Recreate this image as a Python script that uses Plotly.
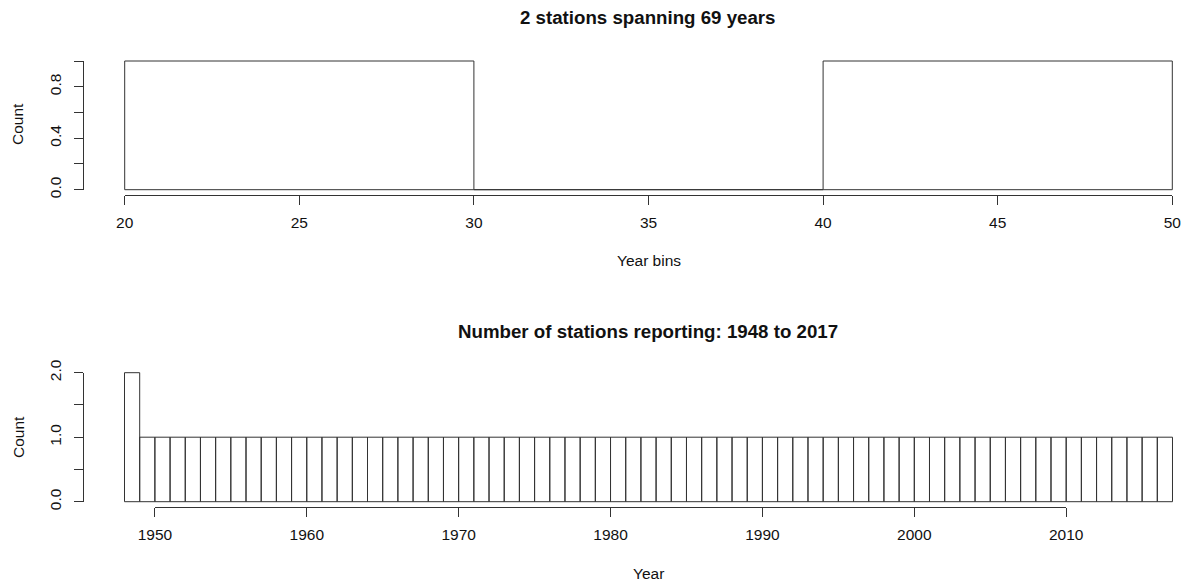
import plotly.graph_objects as go

# ---- data ---------------------------------------------------------------
span_edges = [20, 30, 40, 50]
span_counts = [1, 0, 1]
span_ticks = [20, 25, 30, 35, 40, 45, 50]

year_edges = list(range(1948, 2018))
year_counts = [2, 1, 1, 1, 1, 1, 1, 1, 1, 1,
               1, 1, 1, 1, 1, 1, 1, 1, 1, 1,
               1, 1, 1, 1, 1, 1, 1, 1, 1, 1,
               1, 1, 1, 1, 1, 1, 1, 1, 1, 1,
               1, 1, 1, 1, 1, 1, 1, 1, 1, 1,
               1, 1, 1, 1, 1, 1, 1, 1, 1, 1,
               1, 1, 1, 1, 1, 1, 1, 1, 1]
year_ticks = [1950, 1960, 1970, 1980, 1990, 2000, 2010]

span_yticks = [0.0, 0.2, 0.4, 0.6, 0.8, 1.0]
span_ylabels = ["0.0", "", "0.4", "", "0.8", ""]
year_yticks = [0.0, 0.5, 1.0, 1.5, 2.0]
year_ylabels = ["0.0", "", "1.0", "", "2.0"]

title_top = "2 stations spanning 69 years"
title_bottom = "Number of stations reporting: 1948 to 2017"

# ---- page geometry (pixels) ---------------------------------------------
W, H = 1190, 587
FONT = "Liberation Sans, Arial, Helvetica, sans-serif"
INK = "#333333"
BASE = 15.5


def fx(p):
    return p / W


def fy(p):
    return 1 - p / H


def inv(v0, p0, v1, p1, p):
    return v0 + (p - p0) * (v1 - v0) / (p1 - p0)


def outline(edges, counts):
    xs, ys = [], []
    for i, c in enumerate(counts):
        l, r = edges[i], edges[i + 1]
        xs += [l, l, r, r, l, None]
        ys += [0, c, c, 0, 0, None]
    return xs, ys


panels = [
    dict(edges=span_edges, counts=span_counts, xticks=span_ticks,
         yticks=span_yticks, ylabels=span_ylabels,
         xmap=(20, 124.7, 50, 1172.3), ymap=(0, 189.7, 1, 61.0),
         left=82.8, top=55.8, bottom=195.2,
         xdeco=(20, 50), ydeco=(0, 1)),
    dict(edges=year_edges, counts=year_counts, xticks=year_ticks,
         yticks=year_yticks, ylabels=year_ylabels,
         xmap=(1948, 124.5, 2017, 1172.5), ymap=(0, 501.7, 2, 372.7),
         left=82.8, top=367.5, bottom=507.2,
         xdeco=(1950, 2010), ydeco=(0, 2)),
]

fig = go.Figure()
layout = {}

for k, p in enumerate(panels):
    dx = "x" if k == 0 else f"x{k + 1}"
    dy = "y" if k == 0 else f"y{k + 1}"
    ax_id = 3 + 2 * k  # decoration axes
    ex, ey = f"x{ax_id}", f"y{ax_id}"

    xv0, xp0, xv1, xp1 = p["xmap"]
    yv0, yp0, yv1, yp1 = p["ymap"]

    # histogram outlines
    xs, ys = outline(p["edges"], p["counts"])
    fig.add_trace(go.Scatter(x=xs, y=ys, mode="lines", xaxis=dx, yaxis=dy,
                             line=dict(color=INK, width=1),
                             hoverinfo="skip", showlegend=False))

    xname = "xaxis" if k == 0 else f"xaxis{k + 1}"
    yname = "yaxis" if k == 0 else f"yaxis{k + 1}"
    layout[xname] = dict(
        domain=[fx(p["left"]), 1],
        range=[inv(xv0, xp0, xv1, xp1, p["left"]), inv(xv0, xp0, xv1, xp1, W)],
        visible=False, anchor=dy)
    layout[yname] = dict(
        domain=[fy(p["bottom"]), fy(p["top"])],
        range=[inv(yv0, yp0, yv1, yp1, p["bottom"]), inv(yv0, yp0, yv1, yp1, p["top"])],
        visible=False, anchor=dx)

    # base-graphics style axes spanning only the tick range
    a0, a1 = p["xdeco"]
    b0, b1 = p["ydeco"]
    fig.add_trace(go.Scatter(x=[a0, a1], y=[b0, b1], mode="markers",
                             marker=dict(opacity=0), xaxis=ex, yaxis=ey,
                             hoverinfo="skip", showlegend=False))
    px_a0 = xp0 + (a0 - xv0) * (xp1 - xp0) / (xv1 - xv0)
    px_a1 = xp0 + (a1 - xv0) * (xp1 - xp0) / (xv1 - xv0)
    py_b0 = yp0 + (b0 - yv0) * (yp1 - yp0) / (yv1 - yv0)
    py_b1 = yp0 + (b1 - yv0) * (yp1 - yp0) / (yv1 - yv0)
    layout[f"xaxis{ax_id}"] = dict(
        domain=[fx(px_a0), fx(px_a1)], range=[a0, a1],
        anchor="free", position=fy(p["bottom"]),
        showline=True, linecolor=INK, linewidth=1,
        ticks="outside", ticklen=9, tickcolor=INK, tickwidth=1,
        ticklabelstandoff=4,
        tickvals=p["xticks"], ticktext=[str(v) for v in p["xticks"]],
        showgrid=False, zeroline=False, automargin=False,
        tickfont=dict(family=FONT, size=BASE, color="#111"))
    layout[f"yaxis{ax_id}"] = dict(
        domain=[fy(py_b0), fy(py_b1)], range=[b0, b1],
        anchor="free", position=fx(p["left"]),
        showline=True, linecolor=INK, linewidth=1,
        ticks="outside", ticklen=9, tickcolor=INK, tickwidth=1,
        ticklabelstandoff=7,
        tickvals=p["yticks"], ticktext=p["ylabels"], tickangle=-90,
        showgrid=False, zeroline=False, automargin=False,
        tickfont=dict(family=FONT, size=BASE, color="#111"))

annotations = [
    dict(text=f"<b>{title_top}</b>", x=fx(648), y=fy(17.5), size=18.7),
    dict(text="Year bins", x=fx(649), y=fy(260), size=BASE),
    dict(text="Count", x=fx(18), y=fy(124), size=BASE, angle=-90),
    dict(text=f"<b>{title_bottom}</b>", x=fx(648), y=fy(331), size=18.7),
    dict(text="Year", x=fx(649), y=fy(573), size=BASE),
    dict(text="Count", x=fx(18), y=fy(437), size=BASE, angle=-90),
]
layout["annotations"] = [
    dict(text=a["text"], x=a["x"], y=a["y"], xref="paper", yref="paper",
         xanchor="center", yanchor="middle", showarrow=False,
         textangle=a.get("angle", 0),
         font=dict(family=FONT, size=a["size"], color="#111"))
    for a in annotations
]

fig.update_layout(
    width=W, height=H,
    margin=dict(l=0, r=0, t=0, b=0, pad=0, autoexpand=False),
    paper_bgcolor="white", plot_bgcolor="rgba(0,0,0,0)",
    showlegend=False,
    **layout,
)

fig.write_html("out.html")
